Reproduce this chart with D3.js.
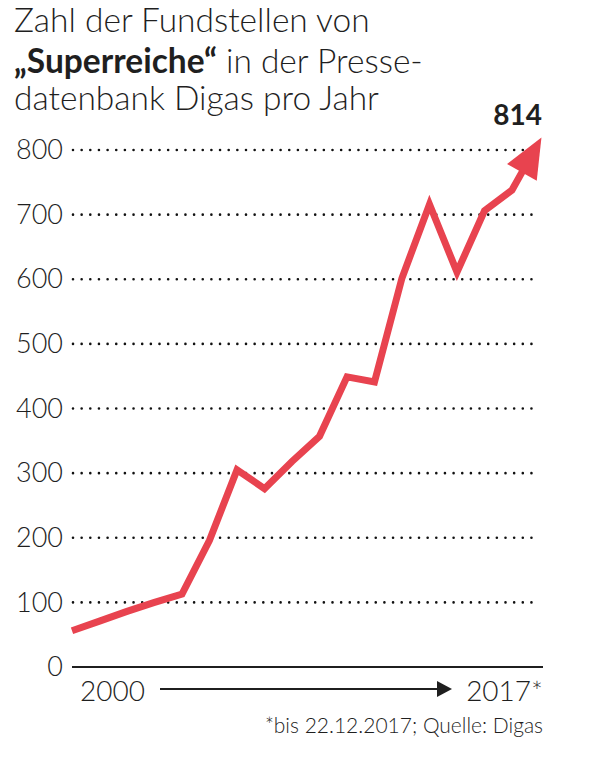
<!DOCTYPE html>
<html>
<head>
<meta charset="utf-8">
<script src="https://cdn.jsdelivr.net/npm/d3@7/dist/d3.min.js"></script>
<style>
  html, body { margin: 0; padding: 0; background: #fff; }
  svg { display: block; font-family: "Lato", "Open Sans", sans-serif; }
</style>
</head>
<body>
<svg id="chart" width="605" height="758"></svg>
<script>
// ---- data ----
const years = [2000, 2001, 2002, 2003, 2004, 2005, 2006, 2007, 2008, 2009, 2010, 2011, 2012, 2013, 2014, 2015, 2016, 2017];
const counts = [56, 71, 86, 100, 113, 196, 305, 276, 318, 357, 449, 441, 602, 716, 611, 706, 738, 814];
const yTicks = [0, 100, 200, 300, 400, 500, 600, 700, 800];
const titleLines = ["Zahl der Fundstellen von", ["„Superreiche“", " in der Presse-"], "datenbank Digas pro Jahr"];
const xStartLabel = "2000";
const xEndLabel = "2017*";
const endLabel = "814";
const footnote = "*bis 22.12.2017; Quelle: Digas";

const red = "#e8434f";
const ink = "#1f1f1f";
const FONT = '"Lato", "Open Sans", sans-serif';

const svg = d3.select("#chart");
const x = d3.scaleLinear().domain([2000, 2017]).range([72, 539.5]);
const y = d3.scaleLinear().domain([0, 800]).range([667, 150]);

// title
const title = svg.append("text").attr("fill", ink).style("font-size", "33.5px").style("font-weight", 300);
title.append("tspan").attr("x", 14).attr("y", 32).text(titleLines[0]);
const l2 = title.append("tspan").attr("x", 14).attr("y", 73);
l2.append("tspan").style("font-weight", 700).text(titleLines[1][0]);
l2.append("tspan").text(titleLines[1][1]);
title.append("tspan").attr("x", 14).attr("y", 110).text(titleLines[2]);

// y axis labels
const yAxis = d3.axisLeft(y).tickValues(yTicks).tickSize(0).tickPadding(9).tickFormat(d3.format("d"));
const gAxis = svg.append("g").attr("transform", "translate(72,0)").call(yAxis)
  .attr("font-family", FONT).attr("font-size", null);
gAxis.select(".domain").remove();
gAxis.selectAll("text").attr("fill", ink).style("font-family", FONT)
  .style("font-size", "27px").style("font-weight", 300);

// gridlines (dotted)
svg.append("g").selectAll("line").data(yTicks.filter(d => d > 0)).join("line")
  .attr("x1", 73).attr("x2", 538)
  .attr("y1", d => y(d)).attr("y2", d => y(d))
  .attr("stroke", "#111").attr("stroke-width", 2.6)
  .attr("stroke-linecap", "round").attr("stroke-dasharray", "0,8.65");

// baseline
svg.append("line").attr("x1", 72).attr("x2", 543).attr("y1", y(0)).attr("y2", y(0))
  .attr("stroke", ink).attr("stroke-width", 2);

// x labels + arrow
svg.append("text").attr("x", 80).attr("y", 701).attr("fill", ink)
  .style("font-size", "28px").style("font-weight", 300).text(xStartLabel);
svg.append("text").attr("x", 543).attr("y", 701).attr("text-anchor", "end").attr("fill", ink)
  .style("font-size", "28px").style("font-weight", 300).text(xEndLabel);
svg.append("line").attr("x1", 160).attr("x2", 440).attr("y1", 689).attr("y2", 689)
  .attr("stroke", ink).attr("stroke-width", 2);
svg.append("path").attr("d", "M437,681 L452,689 L437,697 Z").attr("fill", ink);

// red line with arrowhead
const pts = years.map((yr, i) => [x(yr), y(counts[i])]);
const n = pts.length;
const pPrev = pts[n - 2], pEnd = pts[n - 1];
const dx = pEnd[0] - pPrev[0], dy = pEnd[1] - pPrev[1];
const len = Math.hypot(dx, dy);
const ux = dx / len, uy = dy / len;
const tip = [pEnd[0] + ux * 4, pEnd[1] + uy * 4];
const headLen = 40, headHalf = 17;
const base = [tip[0] - ux * headLen, tip[1] - uy * headLen];
const linePts = pts.slice(0, n - 1).concat([[base[0] + ux * 4, base[1] + uy * 4]]);

svg.append("path").datum(linePts)
  .attr("d", d3.line())
  .attr("fill", "none").attr("stroke", red).attr("stroke-width", 7)
  .attr("stroke-linejoin", "miter").attr("stroke-linecap", "butt");

svg.append("path")
  .attr("d", `M${tip[0]},${tip[1]} L${base[0] - uy * headHalf},${base[1] + ux * headHalf} L${base[0] + uy * headHalf},${base[1] - ux * headHalf} Z`)
  .attr("fill", red);

// end label
svg.append("text").attr("x", 542).attr("y", 125).attr("text-anchor", "end").attr("fill", ink)
  .style("font-size", "28px").style("font-weight", 700).text(endLabel);

// footnote
svg.append("text").attr("x", 543).attr("y", 733).attr("text-anchor", "end").attr("fill", ink)
  .style("font-size", "21px").style("font-weight", 300).text(footnote);
</script>
</body>
</html>
